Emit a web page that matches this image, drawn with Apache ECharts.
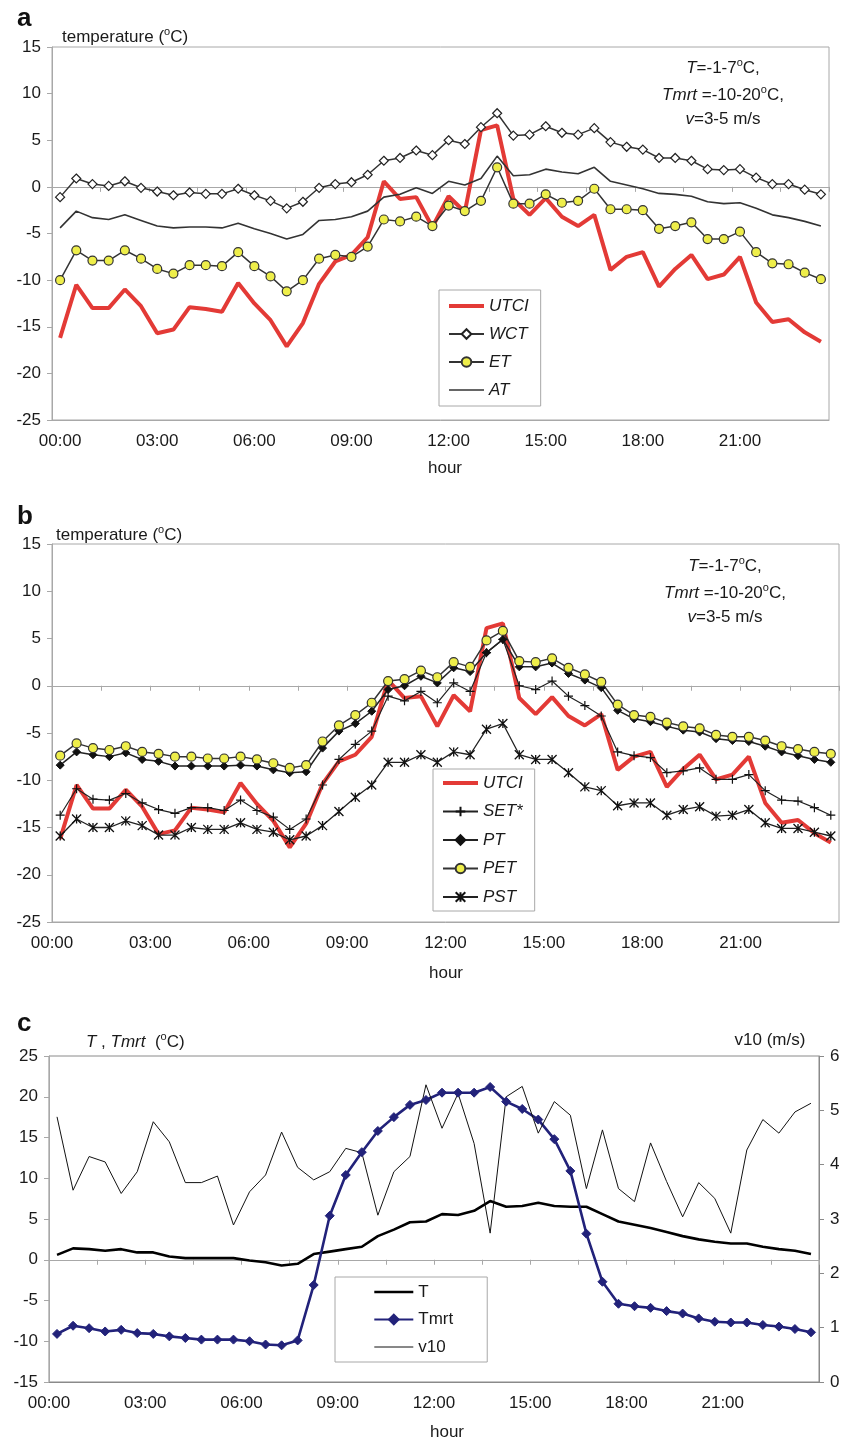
<!DOCTYPE html>
<html>
<head>
<meta charset="utf-8">
<script src="https://cdn.jsdelivr.net/npm/echarts@6/dist/echarts.min.js"></script>
<style>
html, body { margin: 0; padding: 0; background: #fff; }
#main { width: 843px; height: 1441px; }
</style>
</head>
<body>
<div id="main"></div>
<script>
// half-hourly steps of the day
var hours = ['00:00','00:30','01:00','01:30','02:00','02:30','03:00','03:30','04:00','04:30','05:00','05:30',
    '06:00','06:30','07:00','07:30','08:00','08:30','09:00','09:30','10:00','10:30','11:00','11:30',
    '12:00','12:30','13:00','13:30','14:00','14:30','15:00','15:30','16:00','16:30','17:00','17:30',
    '18:00','18:30','19:00','19:30','20:00','20:30','21:00','21:30','22:00','22:30','23:00','23:30'];
var hourTicks = ['00:00','03:00','06:00','09:00','12:00','15:00','18:00','21:00'];

// panel a
var utci = [-16.2,-10.5,-13.0,-13.0,-11.0,-12.8,-15.7,-15.3,-12.9,-13.1,-13.4,-10.3,-12.5,-14.3,-17.1,-14.6,
    -10.4,-8.0,-7.3,-5.4,0.6,-1.3,-1.1,-4.3,-1.0,-2.7,6.1,6.6,-1.3,-3.0,-1.2,-3.2,
    -4.2,-3.0,-8.9,-7.5,-7.0,-10.7,-8.8,-7.3,-9.9,-9.4,-7.5,-12.4,-14.5,-14.2,-15.6,-16.6];
var wct = [-1.1,0.9,0.3,0.1,0.6,-0.1,-0.5,-0.9,-0.6,-0.75,-0.75,-0.2,-0.9,-1.5,-2.3,-1.6,
    -0.1,0.3,0.5,1.3,2.8,3.1,3.9,3.4,5.0,4.6,6.4,7.9,5.5,5.6,6.5,5.8,
    5.6,6.3,4.8,4.3,4.0,3.1,3.1,2.8,1.9,1.8,1.9,1.0,0.3,0.3,-0.3,-0.8];
var et = [-10.0,-6.8,-7.9,-7.9,-6.8,-7.7,-8.8,-9.3,-8.4,-8.4,-8.5,-7.0,-8.5,-9.6,-11.2,-10.0,
    -7.7,-7.3,-7.5,-6.4,-3.5,-3.7,-3.2,-4.2,-2.0,-2.6,-1.5,2.1,-1.8,-1.8,-0.8,-1.7,
    -1.5,-0.2,-2.4,-2.4,-2.5,-4.5,-4.2,-3.8,-5.6,-5.6,-4.8,-7.0,-8.2,-8.3,-9.2,-9.9];
var at = [-4.4,-2.6,-3.3,-3.5,-3.0,-3.6,-4.2,-4.4,-4.3,-4.3,-4.4,-3.9,-4.5,-5.0,-5.6,-5.1,
    -3.6,-3.5,-3.2,-2.6,-1.1,-0.8,-0.1,-0.7,0.6,0.2,0.9,3.3,1.2,1.3,1.9,1.6,
    1.4,2.1,0.6,0.2,-0.2,-0.7,-0.8,-1.0,-1.6,-1.8,-1.7,-2.3,-3.0,-3.3,-3.7,-4.2];

// panel b
var setStar = [-13.7,-10.9,-12.0,-12.1,-11.4,-12.4,-13.1,-13.5,-12.9,-12.9,-13.2,-12.1,-13.2,-13.9,-15.2,-14.1,
    -10.5,-7.8,-6.2,-4.8,-1.1,-1.6,-0.6,-1.8,0.3,-0.6,3.5,4.9,0.0,-0.4,0.5,-1.1,
    -2.1,-3.2,-7.0,-7.4,-7.6,-9.2,-9.0,-8.7,-9.9,-9.9,-9.4,-11.1,-12.1,-12.2,-12.9,-13.7];
var pt = [-8.4,-7.0,-7.3,-7.5,-7.1,-7.8,-8.0,-8.5,-8.5,-8.5,-8.5,-8.4,-8.5,-8.9,-9.2,-9.1,
    -6.6,-4.8,-4.0,-2.7,-0.4,0.0,1.0,0.3,1.9,1.5,3.5,4.9,2.0,2.0,2.4,1.3,
    0.6,-0.2,-2.6,-3.5,-3.8,-4.3,-4.7,-4.9,-5.6,-5.8,-5.9,-6.4,-7.0,-7.4,-7.8,-8.1];
var pet = [-7.4,-6.1,-6.6,-6.8,-6.4,-7.0,-7.2,-7.5,-7.5,-7.7,-7.7,-7.5,-7.8,-8.2,-8.7,-8.4,
    -5.9,-4.2,-3.1,-1.8,0.5,0.7,1.6,0.9,2.5,2.0,4.8,5.8,2.6,2.5,2.9,1.9,
    1.2,0.4,-2.0,-3.1,-3.3,-3.9,-4.3,-4.5,-5.2,-5.4,-5.4,-5.8,-6.4,-6.7,-7.0,-7.2];
var pst = [-15.9,-14.1,-15.0,-15.0,-14.3,-14.8,-15.8,-15.8,-15.0,-15.2,-15.2,-14.5,-15.2,-15.5,-16.3,-15.9,
    -14.8,-13.3,-11.8,-10.5,-8.1,-8.1,-7.3,-8.1,-7.0,-7.3,-4.6,-4.0,-7.3,-7.8,-7.8,-9.2,
    -10.7,-11.1,-12.7,-12.4,-12.4,-13.7,-13.1,-12.8,-13.8,-13.7,-13.1,-14.5,-15.1,-15.1,-15.5,-15.9];

// panel c
var tAir = [0.6,1.4,1.3,1.1,1.3,0.9,0.9,0.4,0.2,0.2,0.2,0.2,-0.1,-0.3,-0.7,-0.5,
    0.7,1.0,1.3,1.6,2.9,3.7,4.6,4.7,5.6,5.5,6.0,7.2,6.5,6.6,7.0,6.6,
    6.5,6.5,5.6,4.7,4.3,3.9,3.4,2.9,2.5,2.2,2.0,2.0,1.6,1.3,1.1,0.7];
var tmrt = [-9.1,-8.1,-8.4,-8.8,-8.6,-9.0,-9.1,-9.4,-9.6,-9.8,-9.8,-9.8,-10.0,-10.4,-10.5,-9.9,
    -3.1,5.4,10.4,13.2,15.8,17.5,19.0,19.6,20.5,20.5,20.5,21.2,19.4,18.5,17.2,14.8,
    10.9,3.2,-2.7,-5.4,-5.7,-5.9,-6.3,-6.6,-7.2,-7.6,-7.7,-7.7,-8.0,-8.2,-8.5,-8.9];
var v10 = [4.88,3.53,4.15,4.05,3.47,3.87,4.79,4.42,3.67,3.67,3.79,2.89,3.5,3.81,4.6,3.95,
    3.72,3.87,4.3,4.22,3.07,3.87,4.15,5.47,4.67,5.31,4.39,2.74,5.25,5.44,4.58,5.16,
    4.91,3.56,4.64,3.56,3.32,4.4,3.69,3.04,3.67,3.38,2.74,4.27,4.83,4.58,4.97,5.13];

var FONT = 'Arial, "Liberation Sans", sans-serif';
var GREY = '#a8a8a8';
var RED = '#e33a36';
var YELLOW = '#eeee4a';
var NAVY = '#22227a';

// panels b and c put the hour labels on the tick marks, so x is a value in hours (mid-slot)
function onHours(values) {
    return values.map(function (v, i) {
        return [i * 0.5 + 0.25, v];
    });
}

var rich = {
    n: {fontSize: 17, fontFamily: FONT, color: '#1a1a1a', lineHeight: 22},
    i: {fontSize: 17, fontFamily: FONT, color: '#1a1a1a', fontStyle: 'italic', lineHeight: 22},
    s: {fontSize: 11, fontFamily: FONT, color: '#1a1a1a', lineHeight: 11, verticalAlign: 'top'}
};
function label(text, x, y, align) {
    return {
        type: 'text', x: x, y: y, silent: true,
        style: {text: text, rich: rich, align: align || 'left', verticalAlign: 'middle',
            font: '17px ' + FONT, fill: '#1a1a1a'}
    };
}
function letter(text, x, y) {
    return {
        type: 'text', x: x, y: y, silent: true,
        style: {text: text, font: 'bold 26px ' + FONT, fill: '#111', verticalAlign: 'middle'}
    };
}
// legend entry for a plain line (no marker)
function lineOnly(name, width, color) {
    return {
        name: name,
        itemStyle: {opacity: 0, color: 'transparent', borderWidth: 0},
        lineStyle: {width: width, color: color}
    };
}

var labelStyle = {color: '#1a1a1a', fontSize: 17, fontFamily: FONT};

function catAxisBottom(grid) {
    return {
        gridIndex: grid, type: 'category', data: hours, boundaryGap: true, position: 'bottom',
        axisLine: {onZero: false, lineStyle: {color: GREY}},
        axisTick: {show: false},
        axisLabel: Object.assign({interval: 5, margin: 13}, labelStyle),
        splitLine: {show: false}
    };
}
function catAxisZero(grid) {
    return {
        gridIndex: grid, type: 'category', data: hours, boundaryGap: true, position: 'top',
        axisLine: {onZero: true, lineStyle: {color: GREY}},
        axisTick: {show: true, interval: 2, inside: true, length: 5, lineStyle: {color: GREY}},
        axisLabel: {show: false},
        splitLine: {show: false}
    };
}
function hourAxisBottom(grid, color) {
    return {
        gridIndex: grid, type: 'value', min: 0, max: 24, interval: 3, position: 'bottom',
        axisLine: {onZero: false, lineStyle: {color: color}},
        axisTick: {show: false},
        axisLabel: Object.assign({
            margin: 13,
            formatter: function (v) { return hourTicks[v / 3] || ''; }
        }, labelStyle),
        splitLine: {show: false}
    };
}
function hourAxisZero(grid, color) {
    return {
        gridIndex: grid, type: 'value', min: 0, max: 24, interval: 1.5, position: 'top',
        axisLine: {onZero: true, lineStyle: {color: color}},
        axisTick: {show: true, inside: true, length: 5, lineStyle: {color: color}},
        axisLabel: {show: false},
        splitLine: {show: false}
    };
}
function valAxis(grid, min, max, interval, pos, color) {
    return {
        gridIndex: grid, type: 'value', min: min, max: max, interval: interval, position: pos,
        axisLine: {show: true, onZero: false, lineStyle: {color: color}},
        axisTick: {show: true, length: 5, lineStyle: {color: color}},
        axisLabel: Object.assign({margin: 11}, labelStyle),
        splitLine: {show: false}
    };
}

var legendText = {fontSize: 17, fontFamily: FONT, color: '#1a1a1a', lineHeight: 18};

var myChart = echarts.init(document.getElementById('main'));
myChart.setOption({
    backgroundColor: '#fff',
    animation: false,
    grid: [
        {left: 52, top: 47, width: 777, height: 373, show: true, borderColor: GREY, borderWidth: 1},
        {left: 52, top: 544, width: 787, height: 378, show: true, borderColor: GREY, borderWidth: 1},
        {left: 49, top: 1056, width: 770, height: 326, show: true, borderColor: '#8a8a8a', borderWidth: 1}
    ],
    xAxis: [
        catAxisBottom(0), catAxisZero(0),
        hourAxisBottom(1, GREY), hourAxisZero(1, GREY),
        hourAxisBottom(2, '#8a8a8a'), hourAxisZero(2, GREY)
    ],
    yAxis: [
        valAxis(0, -25, 15, 5, 'left', GREY),
        valAxis(1, -25, 15, 5, 'left', GREY),
        valAxis(2, -15, 25, 5, 'left', GREY),
        valAxis(2, 0, 6, 1, 'right', '#8a8a8a')
    ],
    legend: [
        {
            data: [lineOnly('UTCI', 4, RED), 'WCT', 'ET', lineOnly('AT', 1.6, '#333')],
            orient: 'vertical', left: 439, top: 290,
            itemWidth: 35, itemHeight: 12, itemGap: 10, padding: [7, 12, 7, 8],
            borderColor: GREY, borderWidth: 1, backgroundColor: '#fff', selectedMode: false,
            textStyle: Object.assign({fontStyle: 'italic'}, legendText)
        },
        {
            data: [lineOnly('UTCI', 4, RED), 'SET*', 'PT', 'PET', 'PST'],
            orient: 'vertical', left: 433, top: 769,
            itemWidth: 35, itemHeight: 12, itemGap: 10.5, padding: [5, 12, 5, 8],
            borderColor: GREY, borderWidth: 1, backgroundColor: '#fff', selectedMode: false,
            textStyle: Object.assign({fontStyle: 'italic'}, legendText)
        },
        {
            data: [lineOnly('T', 2.6, '#000'), 'Tmrt', lineOnly('v10', 1, '#111')],
            orient: 'vertical', left: 335, top: 1277,
            itemWidth: 39, itemHeight: 12, itemGap: 9.5, padding: [6, 34, 6, 38],
            borderColor: GREY, borderWidth: 1, backgroundColor: '#fff', selectedMode: false,
            textStyle: legendText
        }
    ],
    series: [
        // --- a ---
        {name: 'UTCI', type: 'line', xAxisIndex: 0, yAxisIndex: 0, data: utci, symbol: 'none',
            itemStyle: {color: RED}, lineStyle: {color: RED, width: 4}},
        {name: 'WCT', type: 'line', xAxisIndex: 0, yAxisIndex: 0, data: wct, symbol: 'diamond', symbolSize: 9,
            itemStyle: {color: '#fff', borderColor: '#222', borderWidth: 1.2}, lineStyle: {color: '#333', width: 1.5}},
        {name: 'ET', type: 'line', xAxisIndex: 0, yAxisIndex: 0, data: et, symbol: 'circle', symbolSize: 9,
            itemStyle: {color: YELLOW, borderColor: '#333', borderWidth: 1.2}, lineStyle: {color: '#333', width: 1.5}},
        {name: 'AT', type: 'line', xAxisIndex: 0, yAxisIndex: 0, data: at, symbol: 'none',
            itemStyle: {color: '#333'}, lineStyle: {color: '#333', width: 1.6}},
        // --- b ---
        {name: 'UTCI', type: 'line', xAxisIndex: 2, yAxisIndex: 1, data: onHours(utci), symbol: 'none',
            itemStyle: {color: RED}, lineStyle: {color: RED, width: 4}},
        {name: 'SET*', type: 'line', xAxisIndex: 2, yAxisIndex: 1, data: onHours(setStar),
            symbol: 'path://M0,5L10,5M5,0L5,10', symbolSize: 9,
            itemStyle: {color: '#111', borderColor: '#111', borderWidth: 1.2}, lineStyle: {color: '#222', width: 1.2}},
        {name: 'PT', type: 'line', xAxisIndex: 2, yAxisIndex: 1, data: onHours(pt), symbol: 'diamond', symbolSize: 8,
            itemStyle: {color: '#111', borderColor: '#111', borderWidth: 1}, lineStyle: {color: '#222', width: 1.5}},
        {name: 'PET', type: 'line', xAxisIndex: 2, yAxisIndex: 1, data: onHours(pet), symbol: 'circle', symbolSize: 9,
            itemStyle: {color: YELLOW, borderColor: '#333', borderWidth: 1.2}, lineStyle: {color: '#333', width: 1.5}},
        {name: 'PST', type: 'line', xAxisIndex: 2, yAxisIndex: 1, data: onHours(pst),
            symbol: 'path://M0,0L10,10M10,0L0,10M5,0L5,10', symbolSize: 9,
            itemStyle: {color: '#111', borderColor: '#111', borderWidth: 1.3}, lineStyle: {color: '#222', width: 1.3}},
        // --- c ---
        {name: 'T', type: 'line', xAxisIndex: 4, yAxisIndex: 2, data: onHours(tAir), symbol: 'none',
            itemStyle: {color: '#000'}, lineStyle: {color: '#000', width: 2.6}},
        {name: 'Tmrt', type: 'line', xAxisIndex: 4, yAxisIndex: 2, data: onHours(tmrt), symbol: 'diamond', symbolSize: 9,
            itemStyle: {color: NAVY, borderColor: NAVY, borderWidth: 1}, lineStyle: {color: NAVY, width: 2.6}},
        {name: 'v10', type: 'line', xAxisIndex: 4, yAxisIndex: 3, data: onHours(v10), symbol: 'none',
            itemStyle: {color: '#111'}, lineStyle: {color: '#111', width: 1}}
    ],
    graphic: [
        letter('a', 17, 19),
        label('{n|temperature (}{s|o}{n|C)}', 62, 37),
        label('{i|T}{n|=-1-7}{s|o}{n|C,}', 723, 68, 'center'),
        label('{i|Tmrt}{n| =-10-20}{s|o}{n|C,}', 723, 95, 'center'),
        label('{i|v}{n|=3-5 m/s}', 723, 119, 'center'),
        label('{n|hour}', 445, 468, 'center'),

        letter('b', 17, 517),
        label('{n|temperature (}{s|o}{n|C)}', 56, 535),
        label('{i|T}{n|=-1-7}{s|o}{n|C,}', 725, 566, 'center'),
        label('{i|Tmrt}{n| =-10-20}{s|o}{n|C,}', 725, 593, 'center'),
        label('{i|v}{n|=3-5 m/s}', 725, 617, 'center'),
        label('{n|hour}', 446, 973, 'center'),

        letter('c', 17, 1024),
        label('{i|T}{n| , }{i|Tmrt}{n|  (}{s|o}{n|C)}', 86, 1042),
        label('{n|v10 (m/s)}', 770, 1040, 'center'),
        label('{n|hour}', 447, 1432, 'center')
    ]
});
</script>
</body>
</html>
